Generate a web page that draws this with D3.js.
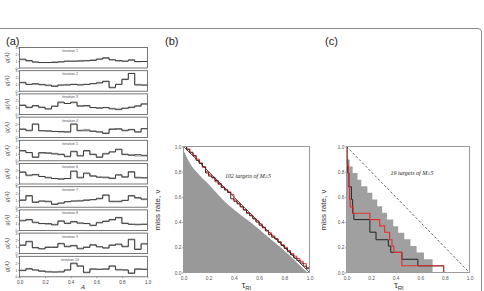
<!DOCTYPE html>
<html><head><meta charset="utf-8">
<script src="https://cdn.jsdelivr.net/npm/d3@7"></script>
<style>body{margin:0;background:#fff}svg{display:block}</style>
</head><body>
<svg id="fig" width="484" height="291"></svg>
<script>
// ---------- DATA ----------
// panel (a): g(A) histograms, 20 bins over A in [0,1]
const binEdges = d3.range(0, 1.0001, 0.05);
const iterNames = ["iteration 1","iteration 2","iteration 3","iteration 4","iteration 5","iteration 6","iteration 7","iteration 8","iteration 9","iteration 10"];
const gBlack1 = [1.3,1.1,0.9,0.8,0.8,0.8,0.9,1.0,1.0,1.0,1.05,1.1,1.3,1.5,1.2,1.1,1.0,1.2,0.95,0.95];
const gGray1  = [1.2,1.0,0.8,0.8,0.8,0.9,0.9,1.0,1.0,1.1,1.1,1.2,1.3,1.4,1.2,1.0,1.0,1.1,0.9,0.95];
const gBlack2 = [1.3,1.0,1.1,1.0,0.9,0.7,0.9,0.9,1.0,0.9,1.0,1.1,1.2,1.4,0.5,1.0,1.7,2.6,0.9,0.9];
const gGray2  = [1.2,1.0,1.0,0.9,0.8,0.8,0.9,1.0,1.0,1.0,1.0,1.1,1.3,1.5,0.6,1.0,1.8,2.6,1.0,0.9];
const gBlack3 = [1.3,1.0,1.3,1.0,0.8,1.2,1.8,1.6,1.8,1.2,1.3,1.0,0.9,1.0,0.8,0.7,0.9,1.0,1.2,1.5];
const gGray3  = [1.4,1.1,1.2,1.1,0.8,1.2,1.7,1.6,1.7,1.3,1.2,1.0,1.0,1.0,0.9,0.8,0.9,1.1,1.3,1.6];
const gBlack4 = [1.2,1.0,2.0,1.0,1.0,0.9,0.9,0.8,2.0,1.0,1.0,0.9,0.8,0.6,1.2,1.3,1.0,1.2,0.8,1.3];
const gGray4  = [1.3,1.1,1.9,1.0,0.9,0.9,0.8,0.9,1.9,1.1,1.2,1.0,0.9,0.7,1.3,1.2,1.1,1.1,0.9,1.3];
const gBlack5 = [1.5,1.2,0.5,1.2,1.1,1.0,0.9,0.6,1.4,0.7,1.5,0.9,0.5,1.0,1.3,1.7,0.9,0.8,0.9,0.8];
const gGray5  = [1.4,1.2,0.6,1.1,1.2,1.1,1.0,0.7,1.3,0.8,1.4,1.0,0.6,1.1,1.3,1.6,1.0,0.9,0.7,0.7];
const gBlack6 = [1.7,1.3,1.4,1.1,0.9,0.8,0.7,0.8,1.9,0.9,1.6,1.2,1.0,1.0,0.8,1.3,1.0,1.8,0.9,0.9];
const gGray6  = [1.8,1.2,1.3,1.1,1.0,0.8,0.8,0.8,1.8,1.0,1.5,1.1,1.0,0.9,0.9,1.4,1.1,1.7,1.0,0.9];
const gBlack7 = [1.0,1.7,0.7,0.9,0.8,0.4,0.6,0.8,0.9,0.9,1.0,1.1,1.3,1.8,0.8,0.8,1.0,1.7,1.4,1.2];
const gGray7  = [1.1,1.6,0.8,0.9,0.9,0.5,0.6,0.8,0.9,1.0,1.1,1.1,1.2,1.7,0.9,0.9,1.0,1.6,1.3,1.1];
const gBlack8 = [1.4,1.6,1.2,1.0,1.0,0.8,1.4,1.0,1.3,1.1,1.0,0.7,1.1,1.3,1.6,1.9,1.0,0.9,0.9,0.9];
const gGray8  = [1.5,1.5,1.1,1.0,0.9,0.9,1.3,1.1,1.2,1.0,1.0,0.8,1.2,1.4,1.5,1.8,1.1,0.9,0.8,0.9];
const gBlack9 = [1.2,1.8,0.9,0.7,0.9,0.9,1.5,1.0,1.2,0.7,0.9,1.3,1.0,0.8,1.2,1.4,1.0,2.1,0.6,1.4];
const gGray9  = [1.3,1.7,0.8,0.7,1.0,1.0,1.4,1.1,1.1,0.8,1.0,1.2,1.0,0.9,1.3,1.3,1.1,2.0,0.7,1.5];
const gBlack10 = [0.9,1.2,1.0,0.8,0.7,0.7,0.7,1.0,2.0,1.6,0.6,1.1,1.1,1.1,1.6,1.0,1.0,0.5,1.1,1.1];
const gGray10  = [1.0,1.1,1.0,0.9,0.8,0.7,0.8,1.0,1.9,1.5,0.7,1.2,1.1,1.2,1.5,1.1,1.0,0.6,1.2,1.1];
const gTicks = [0,1,2,3];
const aTicks = [0,0.2,0.4,0.6,0.8,1.0];

// panel (b): 102 targets of M>=5
const bBoundX = [0,0.05,0.12,0.2,0.3,0.4,0.53,0.65,0.77,0.88,0.95,0.985];
const bBoundV = [0.97,0.87,0.78,0.7,0.59,0.5,0.4,0.3,0.2,0.1,0.03,0.0];
const bTau = d3.range(0, 1.0001, 0.025);
const bBlackV = [1.0,0.975,0.95,0.925,0.89,0.865,0.84,0.79,0.765,0.755,0.73,0.705,0.675,0.655,0.635,0.585,0.565,0.545,0.52,0.495,0.47,0.45,0.425,0.4,0.375,0.355,0.33,0.3,0.28,0.265,0.24,0.215,0.19,0.165,0.14,0.115,0.095,0.075,0.05,0.03,0.0];
const bRedV   = [1.0,0.98,0.955,0.93,0.9,0.87,0.835,0.8,0.775,0.75,0.72,0.7,0.68,0.66,0.64,0.62,0.575,0.55,0.525,0.5,0.475,0.455,0.43,0.41,0.385,0.36,0.335,0.315,0.29,0.27,0.245,0.22,0.2,0.175,0.15,0.13,0.11,0.09,0.07,0.04,0.0];
const molchanTicks = [0,0.2,0.4,0.6,0.8,1.0];

// panel (c): 19 targets of M>=5
const cBandX = [0,0.025,0.05,0.09,0.12,0.17,0.21,0.25,0.29,0.33,0.38,0.42,0.47,0.52,0.57,0.63,0.70];
const cBandV = [0.895,0.842,0.789,0.737,0.684,0.632,0.579,0.526,0.474,0.421,0.368,0.316,0.263,0.211,0.158,0.105,0.105];
const cBlackX = [0,0.005,0.01,0.02,0.04,0.05,0.06,0.19,0.24,0.34,0.36,0.45,0.58,0.79,1.0];
const cBlackV = [1.0,0.9,0.79,0.68,0.58,0.47,0.42,0.32,0.26,0.21,0.16,0.105,0.053,0.0,0.0];
const cRedX = [0,0.005,0.015,0.025,0.03,0.054,0.19,0.27,0.31,0.35,0.37,0.385,0.45,0.79,1.0];
const cRedV = [1.0,0.85,0.68,0.58,0.52,0.47,0.42,0.37,0.32,0.26,0.21,0.16,0.053,0.0,0.0];

// ---------- DRAW ----------
const svg = d3.select("#fig");
svg.append("path").attr("d","M0,28.5 H478 Q481.5,28.5 481.5,32 V291")
  .attr("fill","none").attr("stroke","#8c8c8c").attr("stroke-width",1);

const sans = "Liberation Sans, Arial, sans-serif";
const serif = "Liberation Serif, Times New Roman, serif";
function label(t,x,y){svg.append("text").attr("x",x).attr("y",y).attr("font-family",sans).attr("font-size",11).attr("fill","#222").text(t);}
label("(a)",6,45); label("(b)",165,45); label("(c)",325,45);

// ----- panel (a)
const blacks=[gBlack1,gBlack2,gBlack3,gBlack4,gBlack5,gBlack6,gBlack7,gBlack8,gBlack9,gBlack10];
const grays=[gGray1,gGray2,gGray3,gGray4,gGray5,gGray6,gGray7,gGray8,gGray9,gGray10];
const ax = d3.scaleLinear().domain([0,1]).range([19.5,147.5]);
blacks.forEach((bv,i)=>{
  const top = 47.5 + i*23.2, bot = top + 20.5;
  const ay = d3.scaleLinear().domain([0,3]).range([bot,top]);
  const g = svg.append("g");
  const pts = v => binEdges.map((e,k)=>[e, v[Math.min(k,v.length-1)]]);
  const line = d3.line().x(d=>ax(d[0])).y(d=>ay(d[1])).curve(d3.curveStepAfter);
  g.append("path").attr("d",line(pts(grays[i]))).attr("fill","none").attr("stroke","#9a9a9a").attr("stroke-width",1);
  g.append("path").attr("d",line(pts(bv))).attr("fill","none").attr("stroke","#222").attr("stroke-width",0.8);
  g.append("rect").attr("x",ax(0)).attr("y",top).attr("width",ax(1)-ax(0)).attr("height",bot-top)
    .attr("fill","none").attr("stroke","#555").attr("stroke-width",0.8);
  const yAxis = d3.axisLeft(ay).tickValues(gTicks).tickSize(1.5).tickFormat(d3.format("d"));
  const ya = g.append("g").attr("transform",`translate(${ax(0)},0)`).call(yAxis);
  ya.select(".domain").remove();
  ya.selectAll("text").attr("font-size",3.5).attr("font-family",sans).attr("fill","#444").attr("x",-2);
  ya.selectAll("line").attr("stroke","#555").attr("stroke-width",0.5);
  g.append("text").attr("x",70).attr("y",top+4.5).attr("text-anchor","middle").attr("font-family",sans)
    .attr("font-size",3.6).attr("fill","#555").text(iterNames[i]);
  g.append("text").attr("transform",`translate(9,${(top+bot)/2}) rotate(-90)`).attr("text-anchor","middle")
    .attr("font-family",serif).attr("font-style","italic").attr("font-size",6).attr("fill","#333").text("g(A)");
  if(i===9){
    const xa = g.append("g").attr("transform",`translate(0,${bot})`)
      .call(d3.axisBottom(ax).tickValues(aTicks).tickSize(1.5).tickFormat(d3.format(".1f")));
    xa.select(".domain").remove();
    xa.selectAll("text").attr("font-size",4.5).attr("font-family",sans).attr("fill","#444").attr("dy","0.6em");
    xa.selectAll("line").attr("stroke","#555").attr("stroke-width",0.5);
  }
});
svg.append("text").attr("x",83).attr("y",289).attr("text-anchor","middle").attr("font-family",serif)
  .attr("font-style","italic").attr("font-size",7).attr("fill","#333").text("A");

// ----- molchan panels
function molchanFrame(x0,x1,y0,y1){
  const x = d3.scaleLinear().domain([0,1]).range([x0,x1]);
  const y = d3.scaleLinear().domain([0,1]).range([y1,y0]);
  return {x,y};
}
function axes(s,xl,yl){
  const g = svg.append("g");
  const xa = g.append("g").attr("transform",`translate(0,${s.y(0)})`)
    .call(d3.axisBottom(s.x).tickValues(molchanTicks).tickSize(0).tickFormat(d3.format(".1f")));
  const ya = g.append("g").attr("transform",`translate(${s.x(0)},0)`)
    .call(d3.axisLeft(s.y).tickValues(molchanTicks).tickSize(1.5).tickFormat(d3.format(".1f")));
  [xa,ya].forEach(a=>{a.select(".domain").remove();
    a.selectAll("text").attr("font-size",4.8).attr("font-family",sans).attr("fill","#555");
    a.selectAll("line").attr("stroke","#555").attr("stroke-width",0.5);});
  xa.selectAll("text").attr("dy","0.9em");
  ya.selectAll("text").attr("x",-2);
  g.append("rect").attr("x",s.x(0)).attr("y",s.y(1)).attr("width",s.x(1)-s.x(0)).attr("height",s.y(0)-s.y(1))
    .attr("fill","none").attr("stroke","#9a9a9a").attr("stroke-width",1);
  const t = g.append("text").attr("x",xl[0]).attr("y",xl[1]).attr("text-anchor","middle").attr("font-family",sans)
    .attr("font-size",9).attr("fill","#333");
  t.append("tspan").text("τ");
  t.append("tspan").attr("font-size",6).attr("dy",2).text("RI");
  g.append("text").attr("transform",`translate(${yl[0]},${yl[1]}) rotate(-90)`).attr("text-anchor","middle")
    .attr("font-family",sans).attr("font-size",8).attr("fill","#333").text("miss rate, ν");
}

// panel (b)
const sb = molchanFrame(183.5,309.5,146.5,272.5);
const areaB = d3.area().x(d=>sb.x(d[0])).y0(sb.y(0)).y1(d=>sb.y(d[1])).curve(d3.curveMonotoneX);
svg.append("path").attr("d",areaB(bBoundX.map((x,i)=>[x,bBoundV[i]]))).attr("fill","#999");
svg.append("line").attr("x1",sb.x(0)).attr("y1",sb.y(1)).attr("x2",sb.x(1)).attr("y2",sb.y(0))
  .attr("stroke","#222").attr("stroke-width",0.7);
const lineB = d3.line().x(d=>sb.x(d[0])).y(d=>sb.y(d[1])).curve(d3.curveStepAfter);
svg.append("path").attr("d",lineB(bTau.map((x,i)=>[x,bRedV[i]]))).attr("fill","none").attr("stroke","#d62020").attr("stroke-width",0.9);
svg.append("path").attr("d",lineB(bTau.map((x,i)=>[x,bBlackV[i]]))).attr("fill","none").attr("stroke","#3a1515").attr("stroke-width",0.9);
axes(sb,[246.5,288],[160,210]);
svg.append("text").attr("x",248).attr("y",178).attr("text-anchor","middle").attr("font-family",serif)
  .attr("font-style","italic").attr("font-size",6).attr("fill","#222").text("102 targets of M≥5");

// panel (c)
const sc = molchanFrame(346.5,469.5,146.5,272.5);
const areaC = d3.area().x(d=>sc.x(d[0])).y0(sc.y(0)).y1(d=>sc.y(d[1])).curve(d3.curveStepAfter);
svg.append("path").attr("d",areaC(cBandX.map((x,i)=>[x,cBandV[i]]))).attr("fill","#a0a0a0");
svg.append("line").attr("x1",sc.x(0)).attr("y1",sc.y(1)).attr("x2",sc.x(1)).attr("y2",sc.y(0))
  .attr("stroke","#222").attr("stroke-width",0.7).attr("stroke-dasharray","2.5,2");
const lineC = d3.line().x(d=>sc.x(d[0])).y(d=>sc.y(d[1])).curve(d3.curveStepAfter);
svg.append("path").attr("d",lineC(cBlackX.map((x,i)=>[x,cBlackV[i]]))).attr("fill","none").attr("stroke","#222").attr("stroke-width",1);
svg.append("path").attr("d",lineC(cRedX.map((x,i)=>[x,cRedV[i]]))).attr("fill","none").attr("stroke","#e03030").attr("stroke-width",1.1);
axes(sc,[399,288],[326,210]);
svg.append("text").attr("x",412).attr("y",175).attr("text-anchor","middle").attr("font-family",serif)
  .attr("font-style","italic").attr("font-size",6).attr("fill","#222").text("19 targets of M≥5");
</script>
</body></html>
